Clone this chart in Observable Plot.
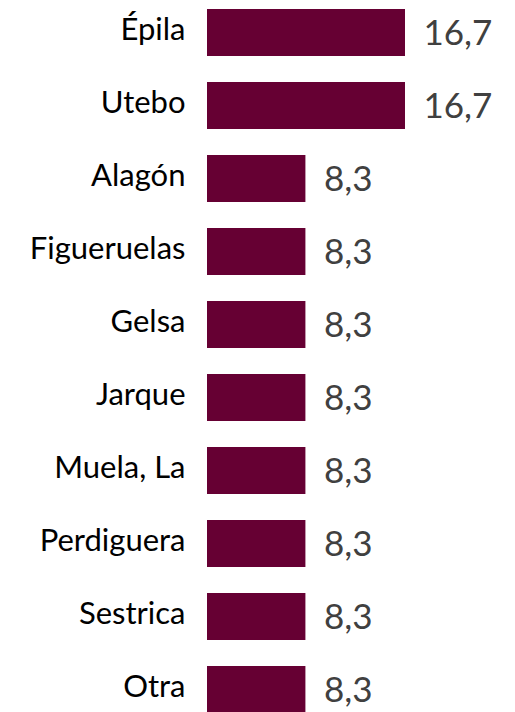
<!DOCTYPE html>
<html>
<head>
<meta charset="utf-8">
<script src="https://cdn.jsdelivr.net/npm/d3@7"></script>
<script src="https://cdn.jsdelivr.net/npm/@observablehq/plot@0.6"></script>
<style>
  html, body { margin: 0; padding: 0; background: #fff; }
  #chart { width: 515px; height: 712px; overflow: hidden; }
</style>
</head>
<body>
<div id="chart"></div>
<script>
const categories = ["Épila", "Utebo", "Alagón", "Figueruelas", "Gelsa", "Jarque", "Muela, La", "Perdiguera", "Sestrica", "Otra"];
const values = [16.7, 16.7, 8.3, 8.3, 8.3, 8.3, 8.3, 8.3, 8.3, 8.3];

const data = categories.map((c, i) => ({category: c, value: values[i]}));
const fmt = v => v.toFixed(1).replace(".", ",");

const chart = Plot.plot({
  width: 515,
  height: 712,
  marginLeft: 207,
  marginRight: 110,
  marginTop: 0,
  marginBottom: 0,
  style: {fontFamily: "Lato, sans-serif", background: "#fff"},
  x: {domain: [0, 16.7], axis: null},
  y: {domain: categories, range: [-21.8, 742.8], padding: 0.363, label: null},
  marks: [
    Plot.barX(data, {x: "value", y: "category", fill: "#660033"}),
    Plot.text(data, {x: "value", y: "category", text: d => fmt(d.value), dx: 18, dy: 1, textAnchor: "start", fontSize: 35, fill: "#404040"}),
    Plot.axisY({tickSize: 0, tickPadding: 22, fontSize: 31, dy: -3, color: "#000", label: null})
  ]
});
document.getElementById("chart").appendChild(chart);
</script>
</body>
</html>
